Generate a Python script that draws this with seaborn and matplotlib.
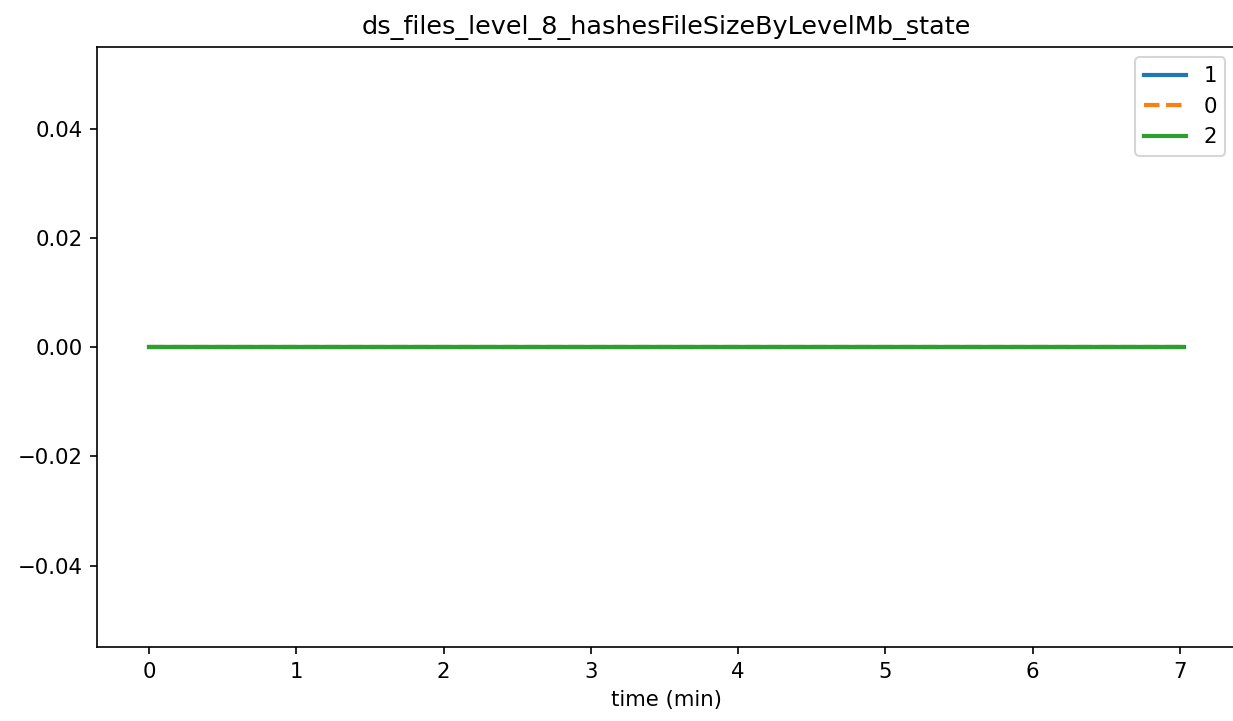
import matplotlib
matplotlib.use("Agg")
import matplotlib.pyplot as plt
import seaborn as sns
import pandas as pd

plt.rcParams["font.size"] = 10.2

title = "ds_files_level_8_hashesFileSizeByLevelMb_state"
series_names = ["1", "0", "2"]
time_1 = [0.0, 1.0, 2.0, 3.0, 4.0, 5.0, 6.0, 7.03]
vals_1 = [0, 0, 0, 0, 0, 0, 0, 0]
time_0 = [0.0, 1.0, 2.0, 3.0, 4.0, 5.0, 6.0, 7.02]
vals_0 = [0, 0, 0, 0, 0, 0, 0, 0]
time_2 = [0.0, 1.0, 2.0, 3.0, 4.0, 5.0, 6.0, 7.02]
vals_2 = [0, 0, 0, 0, 0, 0, 0, 0]

fig, ax = plt.subplots(figsize=(1233/150, 721/150), dpi=150)
colors = ["#1f77b4", "#ff7f0e", "#2ca02c"]
styles = ["-", "--", "-"]
for name, t, v, c, ls in zip(series_names, [time_1, time_0, time_2], [vals_1, vals_0, vals_2], colors, styles):
    df = pd.DataFrame({"t": t, "v": v})
    sns.lineplot(data=df, x="t", y="v", ax=ax, color=c, linestyle=ls, label=name, linewidth=2)

ax.set_title(title)
ax.set_xlabel("time (min)")
ax.set_ylabel("")
ax.legend(loc="upper right")
fig.subplots_adjust(left=0.079, right=1.0025, top=0.935, bottom=0.102)
fig.savefig("out.png", dpi=150)
